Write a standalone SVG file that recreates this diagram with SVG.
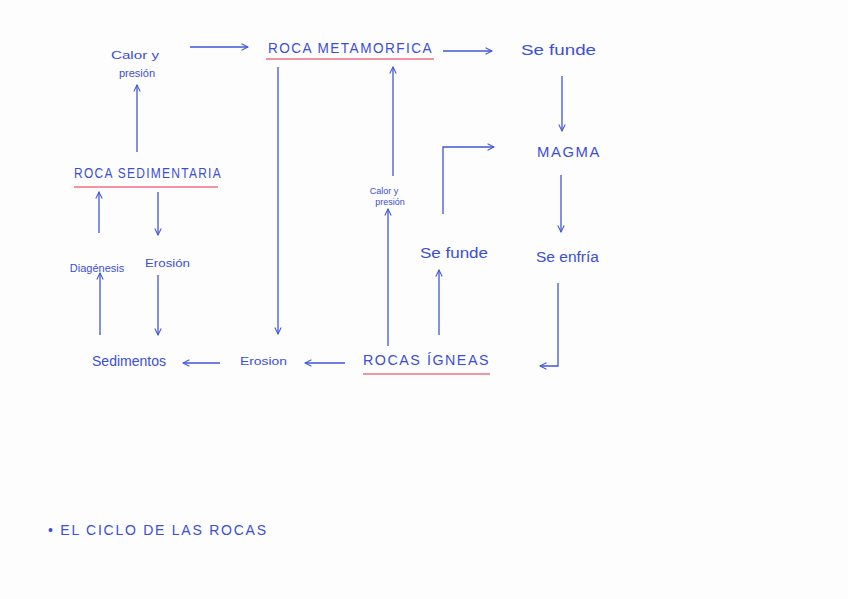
<svg xmlns="http://www.w3.org/2000/svg" width="848" height="599" viewBox="0 0 848 599">
<style>
text{font-family:"Liberation Sans","DejaVu Sans",sans-serif;fill:#3b4ed6;}
.t{font-size:14px;}
.s{font-size:11px;}
.xs{font-size:9px;}
.c{font-size:14px;letter-spacing:1.5px;}
line,path.l{stroke:#4055d8;stroke-width:1.3;fill:none;}
.u{stroke:#f06f86;stroke-width:1.5;}
</style>
<defs>
<marker id="a" viewBox="0 0 10 10" refX="9" refY="5" markerWidth="8" markerHeight="8" orient="auto" markerUnits="userSpaceOnUse">
<path d="M1,1 L9,5 L1,9" fill="none" stroke="#4055d8" stroke-width="1.3"/>
</marker>
</defs>
<rect width="848" height="599" fill="#fdfdfd"/>
<g id="calor1"><text class="s" x="135" y="59" text-anchor="middle" textLength="48" lengthAdjust="spacingAndGlyphs">Calor y</text><text class="s" x="137" y="77" text-anchor="middle">presión</text></g>
<g id="metamorfica"><text class="c" x="268" y="53" textLength="165" lengthAdjust="spacingAndGlyphs">ROCA METAMORFICA</text><line class="u" x1="266" y1="59" x2="434" y2="59"/></g>
<g id="sefunde1"><text class="t" x="521" y="55" textLength="75" lengthAdjust="spacingAndGlyphs">Se funde</text></g>
<g id="magma"><text class="c" x="537" y="157" textLength="64" lengthAdjust="spacingAndGlyphs">MAGMA</text></g>
<g id="seenfria"><text class="t" x="536" y="262" textLength="63" lengthAdjust="spacingAndGlyphs">Se enfría</text></g>
<g id="sefunde2"><text class="t" x="420" y="258" textLength="68" lengthAdjust="spacingAndGlyphs">Se funde</text></g>
<g id="calor2"><text class="xs" x="384" y="194" text-anchor="middle">Calor y</text><text class="xs" x="390" y="205" text-anchor="middle">presión</text></g>
<g id="igneas"><text class="c" x="363" y="365" textLength="127" lengthAdjust="spacingAndGlyphs">ROCAS ÍGNEAS</text><line class="u" x1="363" y1="374" x2="490" y2="374"/></g>
<g id="erosion1"><text class="s" x="240" y="365" textLength="47" lengthAdjust="spacingAndGlyphs">Erosion</text></g>
<g id="sedimentos"><text class="t" x="129" y="366" text-anchor="middle">Sedimentos</text></g>
<g id="diagenesis"><text class="s" x="97" y="272" text-anchor="middle">Diagénesis</text></g>
<g id="erosion2"><text class="s" x="145" y="267" textLength="45" lengthAdjust="spacingAndGlyphs">Erosión</text></g>
<g id="sedimentaria"><text class="c" x="74" y="178" textLength="148" lengthAdjust="spacingAndGlyphs">ROCA SEDIMENTARIA</text><line class="u" x1="74" y1="187" x2="218" y2="187"/></g>
<g id="titulo"><text class="t" x="48" y="535" textLength="218" lengthAdjust="spacing">• EL CICLO DE LAS ROCAS</text></g>
<g id="connectors" marker-end="url(#a)">
<line x1="190" y1="47" x2="248" y2="47"/>
<line x1="443" y1="51" x2="492" y2="51"/>
<line x1="562" y1="76" x2="562" y2="131"/>
<line x1="561" y1="175" x2="561" y2="232"/>
<path class="l" d="M558,283 L558,366 L540,366"/>
<path class="l" d="M443,214 L443,147 L494,147"/>
<line x1="439" y1="335" x2="439" y2="270"/>
<line x1="388" y1="346" x2="388" y2="209"/>
<line x1="393" y1="176" x2="393" y2="67"/>
<line x1="278" y1="67" x2="278" y2="334"/>
<line x1="345" y1="363" x2="305" y2="363"/>
<line x1="220" y1="363" x2="183" y2="363"/>
<line x1="100" y1="335" x2="100" y2="273"/>
<line x1="158" y1="275" x2="158" y2="335"/>
<line x1="99" y1="233" x2="99" y2="192"/>
<line x1="158" y1="192" x2="158" y2="235"/>
<line x1="137" y1="152" x2="137" y2="85"/>
</g>
</svg>
